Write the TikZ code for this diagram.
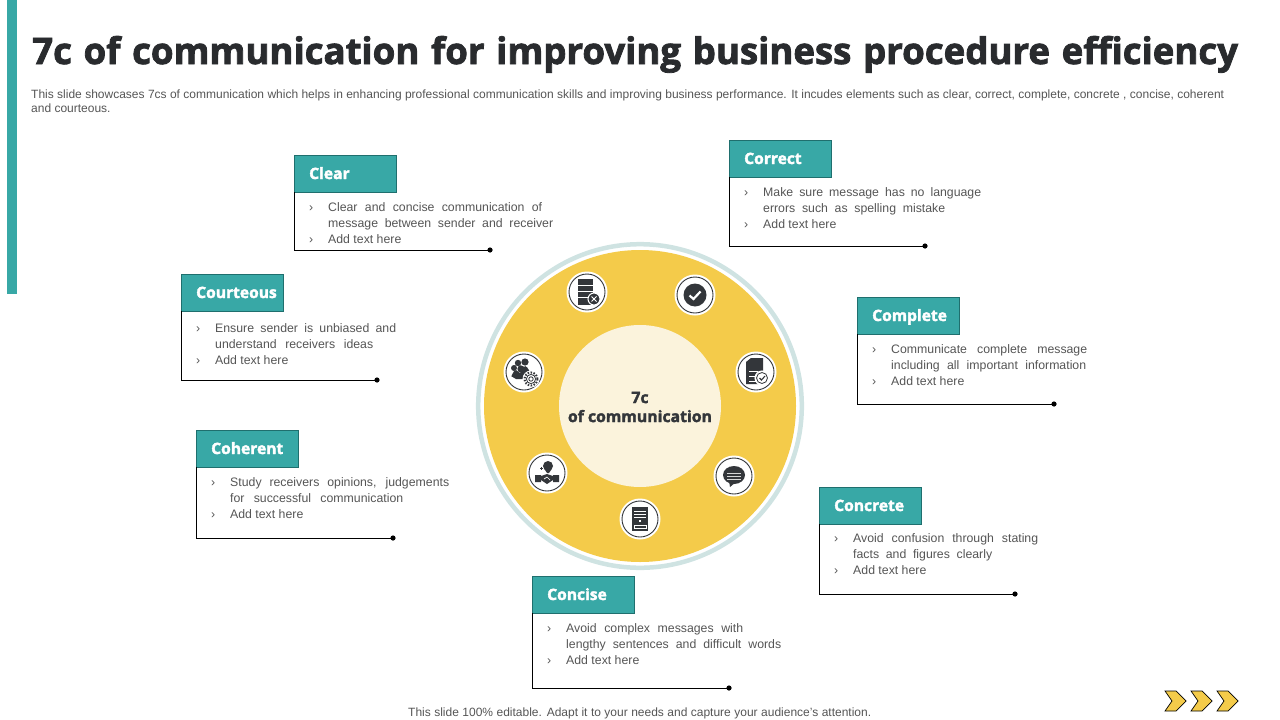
\documentclass[tikz,border=0pt]{standalone}
\usepackage{fontspec}
\setmainfont{Liberation Sans}
\newfontfamily\headfont[FakeBold=2.2]{Open Sans Bold}
\usetikzlibrary{calc}
\definecolor{tealbar}{HTML}{38A8A6}
\definecolor{tealedge}{HTML}{1F6F6E}
\definecolor{sunfill}{HTML}{F4CB4A}
\definecolor{creamfill}{HTML}{FBF3DC}
\definecolor{ringblue}{HTML}{CFE3E2}
\definecolor{inkdark}{HTML}{33363A}
\definecolor{bodygrey}{HTML}{555555}
\tikzset{
    cardhead/.style={draw=tealedge,fill=tealbar,minimum width=102.5,minimum height=36.5,inner sep=0,anchor=north west},
    cardtitle/.style={text=white,font=\headfont\fontsize{15.6}{15}\selectfont,anchor=west,inner sep=0,text height=11,text depth=0},
    cardline/.style={text=bodygrey,font=\fontsize{12.3}{14}\selectfont,anchor=west,inner sep=0,text height=8,text depth=0},
    iconring/.style={circle,draw=inkdark,line width=0.9,fill=white,minimum size=36,inner sep=0},
    iconhalo/.style={circle,fill=white,minimum size=41,inner sep=0},
}
\newcommand{\fitline}[2]{\makebox[#1pt][s]{#2}}
% [text drop], name, x, top, bottom, end of rule, title, first line, second line
\newcommand{\infocard}[9][52]{
    \node[cardhead] (#2) at (#3-0.6,#4-0.4) {};
    \node[cardtitle] (#2title) at (#3+14.5,#4+18) {#7};
    \coordinate (#2end) at (#6,#5);
    \draw[black,line width=0.9] ($(#2.south west)+(1,0)$) |- (#2end);
    \fill[black] (#2end) circle (2.6);
    \node[cardline] (#2a) at (#3+33.5,#4+#1) {#8};
    \node[cardline] (#2b) at (#3+33.5,#4+#1+16) {#9};
    \node[cardline] (#2c) at (#3+33.5,#4+#1+32) {Add text here};
    \node[cardline] at (#3+14.5,#4+#1) {›};
    \node[cardline] at (#3+14.5,#4+#1+32) {›};
}
\begin{document}
\begin{tikzpicture}[x=1pt,y=-1pt]
    \useasboundingbox (0,0) rectangle (1280,720);
    \fill[tealbar] (7,0) rectangle (17,294);
    \node[anchor=west,inner sep=0,text height=26,text depth=0,text=inkdark!80!black,font=\headfont\fontsize{36.6}{36}\selectfont] (title) at (32,51)
        {\fitline{1206}{7c of communication for improving business procedure efficiency}};
    \node[cardline,font=\fontsize{12}{14}\selectfont] (subone) at (31,94) {\fitline{1193}{This slide showcases 7cs of communication which helps in enhancing professional communication skills and improving business performance. It incudes elements such as clear, correct, complete, concrete , concise, coherent}};
    \node[cardline,font=\fontsize{12}{14}\selectfont] (subtwo) at (31,108) {and courteous.};

    \infocard{clear}{294.5}{155.5}{250}{490}{Clear}{\fitline{214}{Clear and concise communication of}}{\fitline{225}{message between sender and receiver}}
    \infocard{correct}{729.5}{140.5}{246}{925}{Correct}{\fitline{218}{Make sure message has no language}}{\fitline{182}{errors such as spelling mistake}}
    \infocard{complete}{857.5}{297.5}{404}{1054}{Complete}{\fitline{196}{Communicate complete message}}{\fitline{195}{including all important information}}
    \infocard[53.5]{courteous}{181.5}{274.5}{380}{377}{Courteous}{\fitline{181}{Ensure sender is unbiased and}}{\fitline{158}{understand receivers ideas}}
    \infocard{coherent}{196.5}{430.5}{538}{393}{Coherent}{\fitline{219}{Study receivers opinions, judgements}}{\fitline{173}{for successful communication}}
    \infocard[51]{concrete}{819.5}{487.5}{594}{1015}{Concrete}{\fitline{185}{Avoid confusion through stating}}{\fitline{139}{facts and figures clearly}}
    \infocard{concise}{532.5}{576.5}{688}{729}{Concise}{\fitline{177}{Avoid complex messages with}}{\fitline{215}{lengthy sentences and difficult words}}

    %wheel
    \coordinate (hub) at (640,406);
    \draw[ringblue,line width=4.5,fill=white] (hub) circle (161.8);
    \fill[sunfill] (hub) circle (156);
    \fill[creamfill] (hub) circle (81);
    \node[align=center,inner sep=0,text=inkdark,font=\headfont\fontsize{15.8}{19}\selectfont] (hubtext) at (640,407) {7c\\of communication};

    %icons
    \foreach \nm/\px/\py in {listx/587/292,tick/695/295,paper/756/372,chat/734/476,server/640/519,shake/547/473,team/524/372}{
        \node[iconhalo] at (\px,\py) {};
        \node[iconring] (\nm) at (\px,\py) {};
    }
    \begin{scope}[shift={(listx)},inkdark]
        \fill (-9,-13) rectangle (6,13);
        \foreach \yy in {-7,-1,5} \draw[white,line width=0.8] (-9,\yy) -- (6,\yy);
        \draw[white,fill=inkdark,line width=1] (7,7) circle (6);
        \draw[white,line width=0.9] (4.5,4.5) -- (9.5,9.5) (4.5,9.5) -- (9.5,4.5);
    \end{scope}
    \begin{scope}[shift={(tick)}]
        \fill[inkdark] (0,0) circle (11.5);
        \draw[white,line width=2.2] (-5.5,0.5) -- (-1.5,4) -- (5.5,-3.5);
    \end{scope}
    \begin{scope}[shift={(paper)}]
        \fill[inkdark] (-10,-10) -- (-5,-14) -- (7,-14) -- (7,12) -- (-10,12) -- cycle;
        \foreach \yy in {-1,4,9} \draw[white,line width=0.7] (-7,\yy) -- (2,\yy);
        \draw[white,fill=white,line width=1] (6,6) circle (7);
        \draw[inkdark,line width=0.8] (6,6) circle (5.5);
        \draw[inkdark,line width=1.1] (3.5,6) -- (5.5,8) -- (9,4);
    \end{scope}
    \begin{scope}[shift={(chat)}]
        \fill[inkdark] (0,-1) ellipse (11 and 9);
        \fill[inkdark] (-5,5) -- (-4,11) -- (2,6) -- cycle;
        \foreach \yy in {-3,0,3} \draw[white!80!inkdark,line width=0.8] (-7,\yy) -- (7,\yy);
    \end{scope}
    \begin{scope}[shift={(server)}]
        \fill[inkdark] (-8,-12) rectangle (8,12);
        \foreach \yy in {-8,-5,-2} \draw[white,line width=0.8] (-6,\yy) -- (6,\yy);
        \fill[white] (-1,1) rectangle (1,3);
        \draw[white,line width=1] (-6,6) rectangle (6,9);
    \end{scope}
    \begin{scope}[shift={(shake)}]
        \fill[inkdark] (-12,2) rectangle (-6,9) (6,2) rectangle (12,9);
        \fill[inkdark] (-6,3) -- (0,1) -- (6,3) -- (6,7) -- (0,11) -- (-6,7) -- cycle;
        \fill[inkdark] (1,-7) circle (5);
        \fill[inkdark] (-2,-3) -- (4,-3) -- (2,0) -- (0,0) -- cycle;
        \draw[white,line width=0.7] (-3,6) -- (0,4) -- (3,7);
        \draw[inkdark,line width=0.9] (-7,-5) -- (-4,-5) (-5.5,-6.5) -- (-5.5,-3.5);
    \end{scope}
    \begin{scope}[shift={(team)}]
        \fill[inkdark] (-6,-9) circle (3.2) (1,-10) circle (3.6) (-10,-4) circle (3) (-3,-3) circle (3.6);
        \fill[inkdark] (-13,4) to[out=-90,in=180] (-8,-2) -- (-4,1) -- (1,-6) to[out=0,in=-90] (6,-1) -- (1,7) -- (-8,7) -- cycle;
        \fill[white] (7,7) circle (8.5);
        \draw[inkdark,line width=2,dash pattern=on 1.5 off 1.5] (7,7) circle (6.5);
        \draw[inkdark,line width=0.8] (7,7) circle (4.6) (7,7) circle (2.2);
    \end{scope}

    %next arrows
    \foreach \dx in {0,26,52}{
        \draw[black,line width=0.7,fill=sunfill,line join=miter] (1165+\dx,691) -- (1176+\dx,691) -- (1186+\dx,701) -- (1176+\dx,711) -- (1165+\dx,711) -- (1172+\dx,701) -- cycle;
    }
    \node[cardline,font=\fontsize{12}{14}\selectfont] (footer) at (408,712) {\fitline{463}{This slide 100\% editable. Adapt it to your needs and capture your audience's attention.}};
\end{tikzpicture}
\end{document}
